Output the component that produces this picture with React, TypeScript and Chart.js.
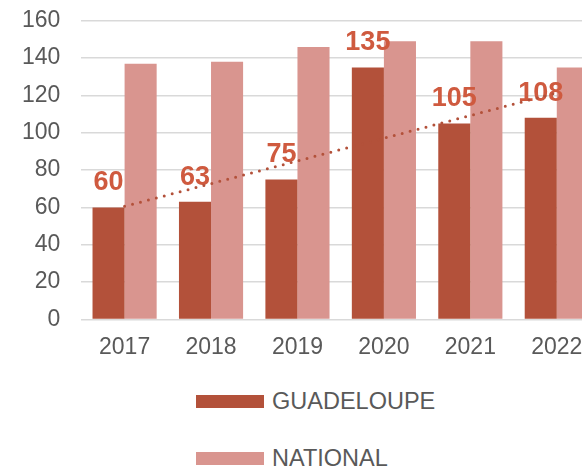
import React, { useEffect, useRef } from "react";
import { Chart, registerables } from "chart.js";

Chart.register(...registerables);

const categories = ["2017", "2018", "2019", "2020", "2021", "2022"];
const guadeloupe = [60, 63, 75, 135, 105, 108];
const national = [137, 138, 146, 149, 149, 135];
const seriesNames = ["GUADELOUPE", "NATIONAL"];
const yMin = 0;
const yMax = 160;
const yStep = 20;

const DARK = "#B3513A";
const LIGHT = "#D9958F";
const LABEL = "#CF5A3F";
const TEXT = "#595959";
const FONT = "'Liberation Sans', Arial, Helvetica, sans-serif";

function linearFit(values: number[]) {
  const n = values.length;
  const mx = (n - 1) / 2;
  const my = values.reduce((a, b) => a + b, 0) / n;
  let sxy = 0;
  let sxx = 0;
  values.forEach((v, i) => {
    sxy += (i - mx) * (v - my);
    sxx += (i - mx) * (i - mx);
  });
  const slope = sxy / sxx;
  return { slope, intercept: my - slope * mx };
}

const overlayPlugin = {
  id: "overlay",
  afterDatasetsDraw(chart: any) {
    const ctx = chart.ctx as CanvasRenderingContext2D;
    const meta = chart.getDatasetMeta(0);
    ctx.save();
    ctx.font = `bold 27px ${FONT}`;
    ctx.fillStyle = LABEL;
    ctx.textAlign = "center";
    ctx.textBaseline = "alphabetic";
    meta.data.forEach((bar: any, i: number) => {
      ctx.fillText(String(guadeloupe[i]), bar.x, bar.y - 17);
    });
    const { slope, intercept } = linearFit(guadeloupe);
    const xs = chart.scales.x;
    const ys = chart.scales.y;
    const last = guadeloupe.length - 1;
    ctx.beginPath();
    ctx.moveTo(xs.getPixelForValue(0), ys.getPixelForValue(intercept));
    ctx.lineTo(xs.getPixelForValue(last), ys.getPixelForValue(intercept + slope * last));
    ctx.setLineDash([0, 8.2]);
    ctx.lineCap = "round";
    ctx.lineWidth = 3;
    ctx.strokeStyle = DARK;
    ctx.stroke();
    ctx.restore();
  },
};

export default function App() {
  const ref = useRef<HTMLCanvasElement | null>(null);

  useEffect(() => {
    if (!ref.current) return;
    const chart = new Chart(ref.current, {
      type: "bar",
      data: {
        labels: categories,
        datasets: [
          {
            label: seriesNames[0],
            data: guadeloupe,
            backgroundColor: DARK,
            borderWidth: 0,
            categoryPercentage: 0.742,
            barPercentage: 1,
          },
          {
            label: seriesNames[1],
            data: national,
            backgroundColor: LIGHT,
            borderWidth: 0,
            categoryPercentage: 0.742,
            barPercentage: 1,
          },
        ],
      },
      options: {
        responsive: false,
        animation: false,
        layout: { padding: { left: 1, right: 20, top: 0, bottom: 0 } },
        plugins: {
          legend: { display: false },
          tooltip: { enabled: false },
        },
        scales: {
          x: {
            grid: { display: false, drawTicks: false },
            border: { display: false },
            ticks: {
              color: TEXT,
              font: { family: FONT, size: 23 },
              padding: 14,
              maxRotation: 0,
            },
          },
          y: {
            min: yMin,
            max: yMax,
            grid: { color: "#D9D9D9", lineWidth: 1.5, drawTicks: false },
            border: { display: false },
            ticks: {
              stepSize: yStep,
              color: TEXT,
              font: { family: FONT, size: 23 },
              padding: 21,
            },
          },
        },
      },
      plugins: [overlayPlugin],
    });
    return () => chart.destroy();
  }, []);

  const legendItems = [
    { name: seriesNames[0], color: DARK, top: 395 },
    { name: seriesNames[1], color: LIGHT, top: 452 },
  ];

  return (
    <div
      style={{
        position: "fixed",
        left: 0,
        top: 0,
        width: 582,
        height: 467,
        overflow: "hidden",
        background: "#fff",
      }}
    >
      <canvas
        ref={ref}
        width={620}
        height={389}
        style={{ position: "absolute", left: 0, top: -14, width: 620, height: 389 }}
      />
      {legendItems.map((it) => (
        <React.Fragment key={it.name}>
          <div
            style={{
              position: "absolute",
              left: 196,
              top: it.top,
              width: 68,
              height: 12.5,
              background: it.color,
            }}
          />
          <div
            style={{
              position: "absolute",
              left: 272,
              top: it.top - 7.5,
              height: 26,
              lineHeight: "26px",
              fontFamily: FONT,
              fontSize: 23.5,
              color: TEXT,
              whiteSpace: "nowrap",
            }}
          >
            {it.name}
          </div>
        </React.Fragment>
      ))}
    </div>
  );
}
